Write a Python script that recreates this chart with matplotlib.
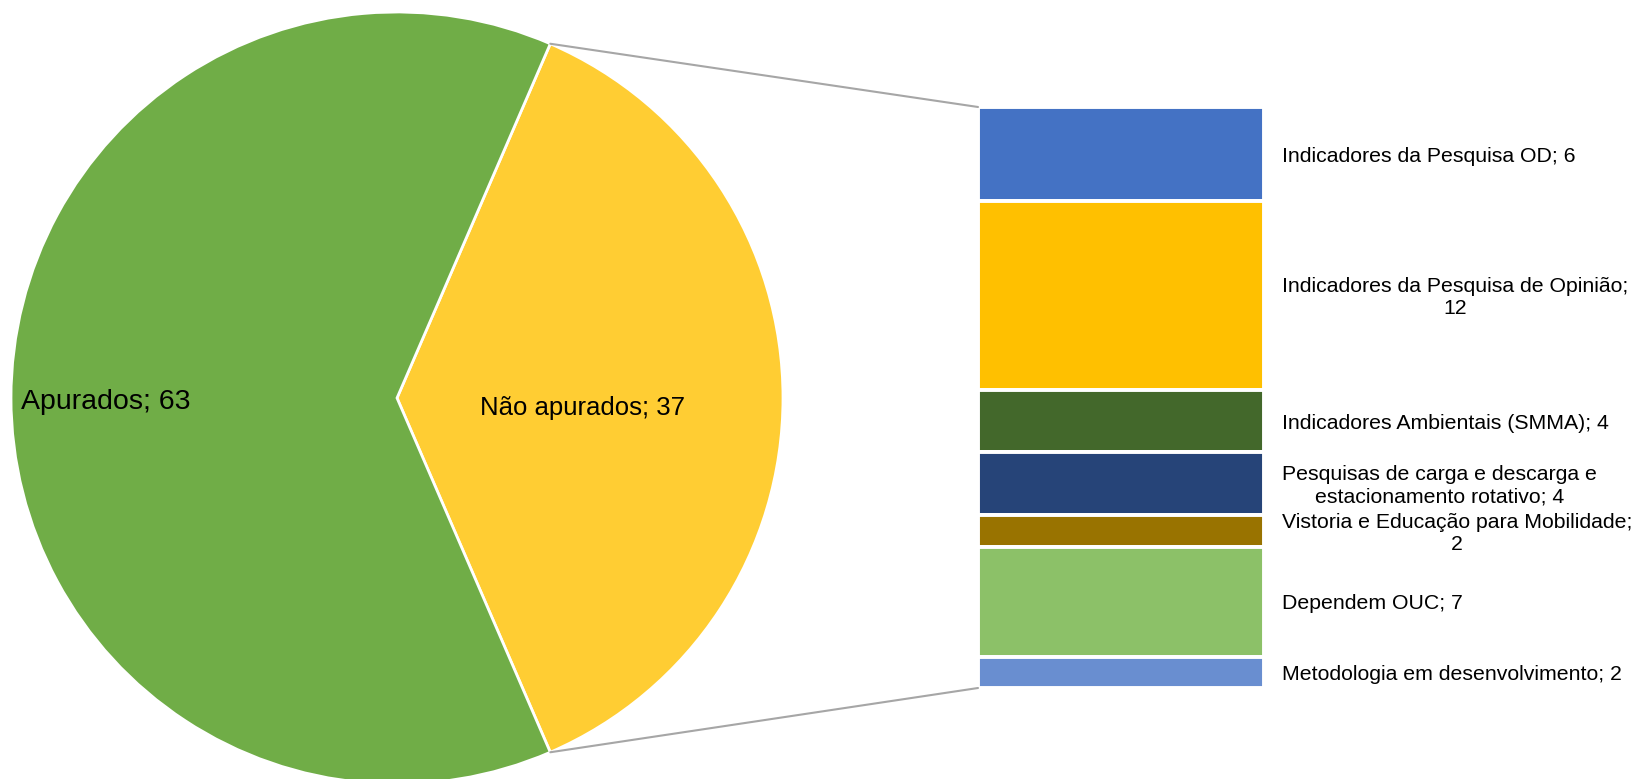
import textwrap
import matplotlib
matplotlib.use('Agg')
import matplotlib.pyplot as plt
from matplotlib.patches import ConnectionPatch
import numpy as np

plt.rcParams['font.family'] = ['Liberation Sans', 'DejaVu Sans']

# dados do gráfico de pizza
pie_labels = ['Não apurados', 'Apurados']
pie_values = [37, 63]
pie_colors = ['#FFCD33', '#70AD47']

# detalhamento dos não apurados (barra empilhada)
bar_labels = ['Indicadores da Pesquisa OD',
              'Indicadores da Pesquisa de Opinião',
              'Indicadores Ambientais (SMMA)',
              'Pesquisas de carga e descarga e estacionamento rotativo',
              'Vistoria e Educação para Mobilidade',
              'Dependem OUC',
              'Metodologia em desenvolvimento']
bar_values = [6, 12, 4, 4, 2, 7, 2]
bar_colors = ['#4472C4', '#FFC000', '#43682B', '#264478', '#997300', '#8CC168', '#698ED0']

W, H = 1637, 779
fig = plt.figure(figsize=(W / 100, H / 100), dpi=100, facecolor='white')

# pizza: centro (397, 398) px, raio 386 px
cx, cy, r = 397, 398, 386
ax_pie = fig.add_axes([(cx - r) / W, (H - cy - r) / H, 2 * r / W, 2 * r / H])
start = -pie_values[0] / sum(pie_values) * 360 / 2
wedges, _ = ax_pie.pie(pie_values, colors=pie_colors, startangle=start, radius=1,
                       wedgeprops=dict(edgecolor='white', linewidth=2))
ax_pie.set_xlim(-1, 1)
ax_pie.set_ylim(-1, 1)
ax_pie.set_aspect('equal')
ax_pie.axis('off')
ax_pie.text(0.48, -0.025, '%s; %d' % (pie_labels[0], pie_values[0]), ha='center', va='center', fontsize=18.5)
ax_pie.text(-0.975, -0.01, '%s; %d' % (pie_labels[1], pie_values[1]), ha='left', va='center', fontsize=20.5)

# barra empilhada
bx0, bx1, by0, by1 = 978, 1264, 107, 688
ax_bar = fig.add_axes([bx0 / W, (H - by1) / H, (bx1 - bx0) / W, (by1 - by0) / H])
total = sum(bar_values)
bottoms = np.concatenate([[0], np.cumsum(bar_values)[:-1]])
ax_bar.bar(0, bar_values, bottom=bottoms, width=1, color=bar_colors, edgecolor='white', linewidth=2.8)
ax_bar.set_xlim(-0.5, 0.5)
ax_bar.set_ylim(total, 0)
ax_bar.axis('off')
for name, v, b in zip(bar_labels, bar_values, bottoms):
    txt = textwrap.fill('%s; %d' % (name, v), width=36)
    ax_bar.annotate(txt, xy=(0.5, b + v / 2), xytext=(13, -1.5), textcoords='offset points',
                    ha='left', va='center', multialignment='center', fontsize=15.3, annotation_clip=False)

# linhas de ligação
theta = np.deg2rad(abs(start))
for sgn, yb in [(1, 0), (-1, total)]:
    con = ConnectionPatch(xyA=(np.cos(theta), sgn * np.sin(theta)), coordsA=ax_pie.transData,
                          xyB=(-0.5, yb), coordsB=ax_bar.transData, color='#A6A6A6', linewidth=1.5)
    fig.add_artist(con)

plt.savefig('out.png', dpi=100, facecolor=fig.get_facecolor())
